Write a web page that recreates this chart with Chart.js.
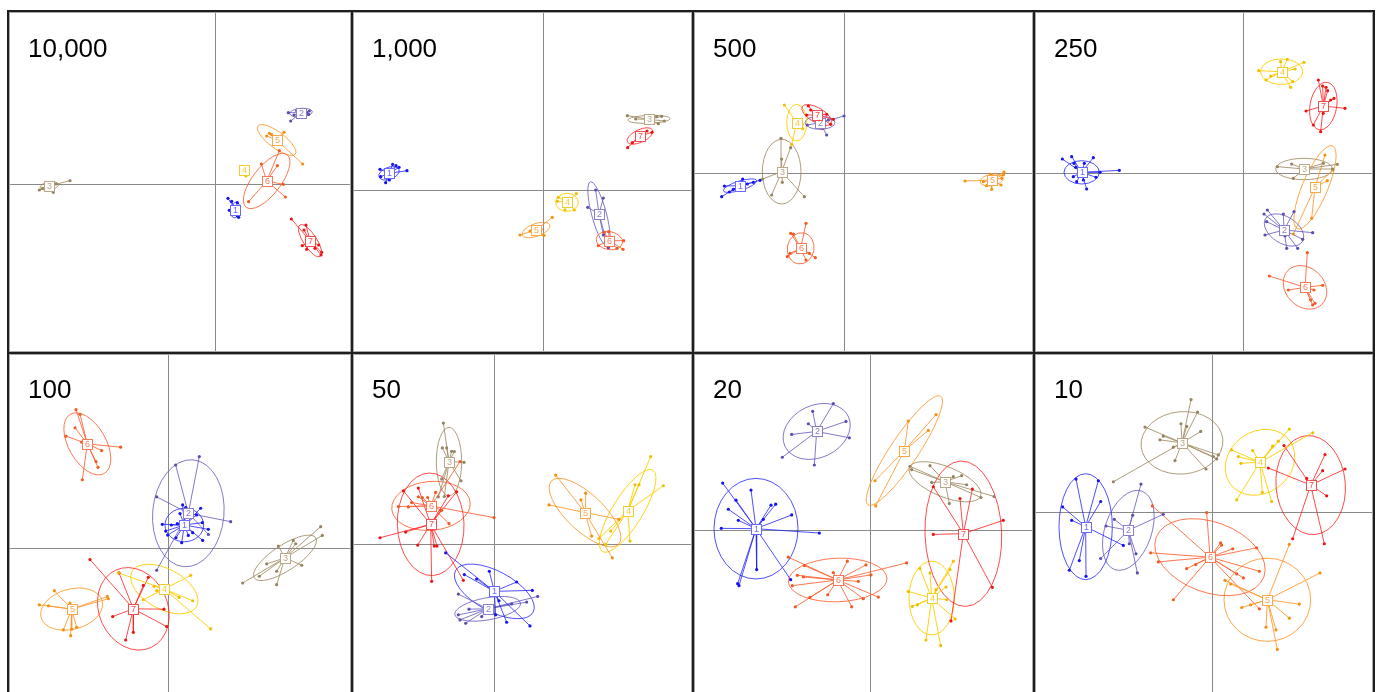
<!DOCTYPE html>
<html>
<head>
<meta charset="utf-8">
<title>Group scores by sample size</title>
<script src="https://cdn.jsdelivr.net/npm/chart.js@4/dist/chart.umd.min.js"></script>
<style>
  html, body { margin: 0; padding: 0; background: #fff; width: 1380px; height: 692px; overflow: hidden; }
  .panel { position: absolute; box-sizing: border-box; border: 2px solid #1e1e1e; background: #fff; }
  .inner { position: absolute; left: 0; top: 0; right: 0; bottom: 0; border: 1px solid #a8a8a8; }
  .inner canvas { position: absolute; left: 0; top: 0; }
  .ttl { position: absolute; font: 26px "Liberation Sans", Arial, sans-serif; line-height: 26px; color: #000; white-space: nowrap; }
</style>
</head>
<body>
<script>
// Panel titles (sample size) and group labels
const panelTitles = ['10,000', '1,000', '500', '250', '100', '50', '20', '10'];
const groupLabels = ['1', '2', '3', '4', '5', '6', '7'];

// Axis limits of each panel (score units), in panel order
const xLimits = [[-615, 405], [-568, 443], [-447, 564], [-620, 388], [-475, 545], [-420, 591], [-525, 486], [-528, 480]];
const yLimits = [[-500, 514], [-482, 532], [-533, 481], [-533, 481], [-443, 577], [-455, 565], [-498, 522], [-552, 468]];

// Group classes: [group, centroid x, centroid y, ellipse semi-axis a, semi-axis b, angle in degrees]
const cls10000 = [[1, 61, -77, 24, 13, 80], [2, 258, 215, 34, 13, 5], [3, -497, -5, 28, 12, 10], [4, 88, 43, 6, 4, 60],
  [5, 185, 133, 70, 24, -37], [6, 155, 10, 100, 42, 52], [7, 285, -169, 56, 20, -57]];
const cls1000 = [[1, -463, 51, 32, 18, 20], [2, 167, -71, 100, 22, 105], [3, 317, 213, 63, 12, 2], [4, 71, -36, 34, 27, 0],
  [5, -22, -119, 44, 19, 20], [6, 198, -151, 40, 27, -10], [7, 290, 163, 42, 19, 25]];
const cls500 = [[1, -312, -37, 52, 14, 17], [2, -72, 152, 45, 20, 0], [3, -187, 5, 97, 58, 90], [4, -142, 152, 55, 30, 90],
  [5, 443, -20, 35, 17, 10], [6, -130, -225, 47, 40, 80], [7, -82, 175, 50, 22, -30]];
const cls250 = [[1, -483, 3, 53, 35, 0], [2, 124, -170, 65, 40, -32], [3, 184, 13, 85, 32, 0], [4, 117, 305, 63, 38, 0],
  [5, 217, -42, 135, 38, 67], [6, 187, -342, 72, 58, -45], [7, 242, 202, 72, 40, 80]];
const cls100 = [[1, 48, 70, 58, 50, 0], [2, 60, 105, 160, 107, 85], [3, 350, -28, 110, 38, 33], [4, -12, -121, 110, 60, -28],
  [5, -290, -181, 95, 60, 15], [6, -243, 312, 102, 56, -60], [7, -105, -180, 127, 103, -65]];
const cls50 = [[1, 1, -140, 132, 60, -28], [2, -19, -192, 100, 33, 10], [3, -135, 247, 102, 38, 90], [4, 401, 100, 143, 45, 58],
  [5, 273, 95, 138, 55, -43], [6, -189, 115, 118, 73, 5], [7, -190, 60, 153, 100, 92]];
const cls20 = [[1, -342, 4, 150, 126, 90], [2, -160, 294, 105, 78, 25], [3, 225, 144, 115, 45, -22], [4, 185, -203, 110, 68, 90],
  [5, 103, 237, 195, 42, 56], [6, -97, -149, 148, 65, 2], [7, 280, -11, 217, 115, 92]];
const cls10 = [[1, -379, -44, 158, 80, 90], [2, -251, -55, 124, 70, 71], [3, -90, 206, 123, 93, 5], [4, 144, 148, 110, 92, 35],
  [5, 166, -262, 130, 124, 0], [6, -6, -135, 172, 105, -20], [7, 296, 80, 148, 104, 95]];

// Individual scores: [group, x, y]
const pts10000 = [
  [1, 39, -42], [1, 50, -51], [1, 43, -78], [1, 67, -55], [1, 71, -99], [1, 67, -95], [1, 58, -90],
  [2, 220, 215], [2, 227, 190], [2, 237, 208], [2, 245, 221], [2, 276, 215], [2, 283, 220], [2, 281, 210],
  [3, -527, -17], [3, -517, -12], [3, -485, -24], [3, -477, 1], [3, -435, 11], [3, -488, 6],
  [4, 90, 41], [4, 93, 25],
  [5, 163, 153], [5, 155, 145], [5, 170, 149], [5, 207, 156], [5, 263, 61],
  [6, 193, 101], [6, 139, 61], [6, 187, 56], [6, 205, 0], [6, 211, -38], [6, 101, -52],
  [7, 229, -104], [7, 273, -122], [7, 267, -137], [7, 262, -184], [7, 275, -195], [7, 311, -182], [7, 318, -212], [7, 320, -204], [7, 300, -192]
];
const pts1000 = [
  [1, -490, 63], [1, -488, 41], [1, -473, 23], [1, -462, 31], [1, -452, 78], [1, -442, 74], [1, -433, 69], [1, -409, 59],
  [2, 157, 1], [2, 180, -23], [2, 133, -51], [2, 195, -172], [2, 180, -134],
  [3, 252, 224], [3, 277, 214], [3, 340, 221], [3, 355, 222], [3, 363, 208], [3, 345, 200],
  [4, 45, -21], [4, 99, -10], [4, 65, -59], [4, 93, -59], [4, 42, -33],
  [5, -70, -134], [5, -40, -122], [5, 2, -135], [5, 27, -81], [5, -7, -117],
  [6, 165, -166], [6, 183, -126], [6, 196, -124], [6, 241, -151], [6, 239, -177], [6, 221, -174], [6, 195, -171],
  [7, 253, 128], [7, 267, 143], [7, 311, 178], [7, 326, 174], [7, 302, 159]
];
const pts500 = [
  [1, -367, -70], [1, -359, -38], [1, -344, -56], [1, -332, -48], [1, -304, -17], [1, -290, -32], [1, -272, -27], [1, -252, -21],
  [2, 0, 172], [2, -52, 115], [2, -110, 145], [2, -47, 160],
  [3, -189, 105], [3, -160, 77], [3, -187, 43], [3, -217, -65], [3, -185, -27], [3, -119, -70], [3, -244, -17],
  [4, -179, 205], [4, -157, 87], [4, -125, 147], [4, -124, 134],
  [5, 363, -23], [5, 418, -25], [5, 428, -37], [5, 443, -48], [5, 471, -35], [5, 478, -4], [5, 480, 4], [5, 473, -15], [5, 440, -3],
  [6, -114, -150], [6, -160, -180], [6, -152, -182], [6, -170, -250], [6, -162, -240], [6, -114, -260], [6, -86, -253], [6, -104, -240],
  [7, -107, 202], [7, -100, 190], [7, -112, 175], [7, -90, 160], [7, -52, 177], [7, -40, 147], [7, -65, 135], [7, -32, 162]
];
const pts250 = [
  [1, -541, 43], [1, -513, 50], [1, -506, 30], [1, -501, 18], [1, -448, 47], [1, -475, 30], [1, -508, -10], [1, -498, -25],
  [1, -478, -20], [1, -468, -47], [1, -440, -12], [1, -428, 3], [1, -370, 9],
  [2, 74, -110], [2, 64, -122], [2, 72, -145], [2, 67, -185], [2, 122, -122], [2, 154, -115], [2, 210, -178], [2, 180, -198],
  [2, 132, -225], [2, 165, -225], [2, 127, -188],
  [3, 104, 20], [3, 147, 28], [3, 242, 30], [3, 284, 27], [3, 270, 13], [3, 152, -15],
  [4, 48, 308], [4, 70, 280], [4, 84, 292], [4, 114, 335], [4, 134, 342], [4, 184, 333], [4, 157, 313], [4, 150, 275], [4, 144, 258],
  [5, 247, 55], [5, 270, 10], [5, 254, -22], [5, 207, -135], [5, 152, -182],
  [6, 194, -238], [6, 80, -308], [6, 137, -350], [6, 240, -336], [6, 214, -350], [6, 204, -380], [6, 210, -395], [6, 217, -390],
  [7, 227, 280], [7, 240, 262], [7, 250, 258], [7, 255, 248], [7, 274, 225], [7, 264, 220], [7, 307, 195], [7, 190, 187],
  [7, 212, 145], [7, 234, 125], [7, 242, 180]
];
const pts100 = [
  [1, -18, 72], [1, -8, 52], [1, -2, 40], [1, 9, 70], [1, 27, 74], [1, 35, 104], [1, 43, 130], [1, 52, 122], [1, 97, 120],
  [1, 85, 100], [1, 102, 77], [1, 120, 57], [1, 103, 24], [1, 73, 47], [1, 40, 17], [1, 23, 32], [1, 60, 39],
  [2, 93, 274], [2, 22, 249], [2, -35, 154], [2, 187, 80], [2, 120, 42], [2, -35, -65],
  [3, 223, -103], [3, 273, -83], [3, 295, -46], [3, 325, -68], [3, 325, -108], [3, 330, 7], [3, 375, 24], [3, 382, 14],
  [3, 400, -50], [3, 457, 65], [3, 462, 39],
  [4, -150, -73], [4, -35, -126], [4, -75, -153], [4, 67, -80], [4, 32, -146], [4, 73, -156], [4, 127, -240], [4, -43, -113],
  [5, -387, -168], [5, -360, -171], [5, -342, -126], [5, -295, -163], [5, -315, -243], [5, -293, -260], [5, -290, -241],
  [5, -275, -235], [5, -183, -143], [5, -180, -150],
  [6, -277, 414], [6, -265, 400], [6, -280, 360], [6, -307, 335], [6, -260, 317], [6, -200, 292], [6, -143, 302],
  [6, -217, 259], [6, -211, 242], [6, -258, 205],
  [7, -235, -33], [7, -148, -73], [7, -60, -86], [7, -75, -110], [7, -13, -181], [7, -5, -233], [7, -105, -250],
  [7, -128, -273], [7, -167, -203]
];
const pts50 = [
  [1, -145, -25], [1, -89, -90], [1, -52, -103], [1, -14, -80], [1, 68, -112], [1, 115, -137], [1, 108, -243], [1, 38, -232],
  [1, 5, -210], [1, 15, -168],
  [2, -107, -210], [2, -102, -225], [2, -85, -235], [2, -75, -193], [2, -107, -148], [2, -37, -215], [2, 53, -177],
  [2, 98, -172], [2, 131, -155],
  [3, -152, 362], [3, -155, 288], [3, -142, 288], [3, -127, 278], [3, -119, 277], [3, -90, 245], [3, -99, 190], [3, -157, 195],
  [3, -167, 142], [3, -149, 143],
  [4, 470, 262], [4, 423, 178], [4, 435, 178], [4, 508, 175], [4, 408, 10], [4, 350, 40], [4, 335, 0], [4, 315, 18],
  [5, 185, 207], [5, 165, 118], [5, 261, 133], [5, 275, 153], [5, 293, 25], [5, 375, 75], [5, 355, -40],
  [6, -227, 142], [6, -215, 140], [6, -247, 125], [6, -257, 112], [6, -287, 113], [6, -199, 140], [6, -175, 155],
  [6, -102, 247], [6, -157, 102], [6, -135, 62], [6, 0, 80],
  [7, -342, 20], [7, -265, 37], [7, -272, 160], [7, -227, 168], [7, -137, 145], [7, -112, 157], [7, -159, 102],
  [7, -229, -2], [7, -187, -110], [7, -179, -5], [7, -171, -5], [7, -92, -107]
];
const pts20 = [
  [1, -442, 140], [1, -402, 89], [1, -425, 62], [1, -395, 29], [1, -357, 119], [1, -297, 74], [1, -283, 77], [1, -320, 32],
  [1, -235, 45], [1, -446, 5], [1, -152, -9], [1, -340, -118], [1, -397, -160], [1, -393, -166], [1, -238, -148],
  [2, -172, 354], [2, -110, 377], [2, -185, 317], [2, -235, 285], [2, -263, 217], [2, -167, 194], [2, -72, 324], [2, -62, 275],
  [3, 120, 190], [3, 125, 180], [3, 180, 192], [3, 185, 142], [3, 238, 79], [3, 250, 159], [3, 275, 162], [3, 290, 135],
  [3, 333, 97], [3, 372, 100],
  [4, 150, -115], [4, 180, -128], [4, 250, -93], [4, 240, -118], [4, 198, -178], [4, 228, -170], [4, 115, -183],
  [4, 127, -228], [4, 142, -223], [4, 230, -208], [4, 255, -265], [4, 168, -328], [4, 212, -345],
  [5, 115, 325], [5, 198, 344], [5, 175, 297], [5, 15, 147], [5, 17, 72],
  [6, -245, -81], [6, -197, -106], [6, -218, -135], [6, -200, -140], [6, -233, -166], [6, -224, -229], [6, -180, -201],
  [6, -127, -193], [6, -110, -127], [6, -68, -93], [6, -35, -153], [6, -12, -104], [6, 3, -134], [6, 110, -98],
  [6, 25, -200], [6, -20, -205], [6, -55, -229],
  [7, 190, 129], [7, 270, 94], [7, 307, 122], [7, 400, 29], [7, 190, -13], [7, 367, -171], [7, 243, -271]
];
const pts10 = [
  [1, -448, 15], [1, -421, -25], [1, -408, 98], [1, -341, 93], [1, -334, 31], [1, -266, -100], [1, -398, -145],
  [1, -428, -174], [1, -378, -192],
  [2, -213, 83], [2, -238, -10], [2, -146, -7], [2, -293, -22], [2, -318, -42], [2, -334, -139], [2, -248, -95],
  [2, -228, -125], [2, -224, -182],
  [3, -63, 335], [3, -43, 298], [3, -93, 263], [3, -76, 255], [3, -34, 240], [3, -201, 253], [3, -156, 215], [3, -146, 226],
  [3, -116, 193], [3, -111, 153], [3, -296, 90], [3, -18, 128], [3, 4, 165], [3, 19, 170], [3, 14, 158],
  [4, 59, 185], [4, 79, 165], [4, 87, 145], [4, 122, 183], [4, 182, 196], [4, 199, 211], [4, 232, 247], [4, 302, 236],
  [4, 74, 36], [4, 151, 58], [4, 179, 31],
  [5, 232, -97], [5, 324, -182], [5, 39, -204], [5, 56, -215], [5, 89, -285], [5, 116, -277], [5, 262, -275], [5, 232, -317],
  [5, 162, -344], [5, 192, -352], [5, 196, -410],
  [6, -179, 18], [6, -16, -2], [6, -184, -122], [6, -161, -149], [6, -76, -169], [6, -49, -157], [6, -116, -262], [6, 26, -92],
  [6, 29, -99], [6, 62, -110], [6, 134, -107], [6, 142, -177], [6, 94, -197], [6, 74, -185], [6, 142, -289],
  [7, 216, 198], [7, 169, 131], [7, 284, 100], [7, 332, 123], [7, 339, 171], [7, 399, 128], [7, 344, 48], [7, 242, -80], [7, 337, -95]
];

const panelPoints = [pts10000, pts1000, pts500, pts250, pts100, pts50, pts20, pts10];
const panelClasses = [cls10000, cls1000, cls500, cls250, cls100, cls50, cls20, cls10];

// Colours per group (index 0 unused)
const lineColor = [null, 'rgba(30,30,255,0.78)', 'rgba(98,88,190,0.8)', 'rgba(160,140,100,0.85)', 'rgba(255,205,0,0.9)',
  'rgba(255,150,40,0.85)', 'rgba(255,95,50,0.85)', 'rgba(255,30,30,0.8)'];
const pointColor = [null, '#1414ee', '#5a4fae', '#968460', '#f0c000', '#f59010', '#f25a22', '#ee1414'];
const labelColor = [null, '#6a6aff', '#8a82c8', '#b8a888', '#f5cc30', '#f7a84a', '#f77a55', '#f25050'];

// Frame geometry: column and row boundaries of the panel grid
const colEdges = [7, 351, 692, 1033, 1373];
const rowEdges = [10, 352, 698];

function classPlugin(cls) {
  return {
    id: 'classes',
    beforeDatasetsDraw(chart) {
      const { ctx, chartArea, scales: { x, y } } = chart;
      ctx.save();
      // axes through the origin
      const x0 = Math.round(x.getPixelForValue(0)) + 0.5;
      const y0 = Math.round(y.getPixelForValue(0)) + 0.5;
      ctx.strokeStyle = '#8a8a8a';
      ctx.lineWidth = 1;
      ctx.beginPath();
      ctx.moveTo(x0, chartArea.top); ctx.lineTo(x0, chartArea.bottom);
      ctx.moveTo(chartArea.left, y0); ctx.lineTo(chartArea.right, y0);
      ctx.stroke();
      // dispersion ellipses
      const sx = x.getPixelForValue(1) - x.getPixelForValue(0);
      const sy = y.getPixelForValue(0) - y.getPixelForValue(1);
      cls.forEach(([g, cx, cy, a, b, ang]) => {
        ctx.save();
        ctx.translate(x.getPixelForValue(cx), y.getPixelForValue(cy));
        ctx.scale(sx, -sy);
        ctx.rotate(ang * Math.PI / 180);
        ctx.beginPath();
        ctx.ellipse(0, 0, a, b, 0, 0, Math.PI * 2);
        ctx.restore();
        ctx.strokeStyle = lineColor[g];
        ctx.lineWidth = 1;
        ctx.stroke();
      });
      ctx.restore();
    },
    afterDatasetsDraw(chart) {
      const { ctx, scales: { x, y } } = chart;
      ctx.save();
      ctx.font = '9px "Liberation Sans", Arial, sans-serif';
      ctx.textAlign = 'center';
      ctx.textBaseline = 'middle';
      ctx.lineWidth = 1;
      cls.forEach(([g, cx, cy]) => {
        const px = Math.round(x.getPixelForValue(cx));
        const py = Math.round(y.getPixelForValue(cy));
        ctx.fillStyle = '#ffffff';
        ctx.fillRect(px - 5, py - 5, 11, 11);
        ctx.strokeStyle = labelColor[g];
        ctx.strokeRect(px - 4.5, py - 4.5, 10, 10);
        ctx.fillStyle = labelColor[g];
        ctx.fillText(groupLabels[g - 1], px + 0.5, py + 1);
      });
      ctx.restore();
    }
  };
}

panelTitles.forEach((title, i) => {
  const col = i % 4, row = Math.floor(i / 4);
  const left = colEdges[col], top = rowEdges[row];
  const w = colEdges[col + 1] - left + 2;
  const h = rowEdges[row + 1] - top + 2;

  const panel = document.createElement('div');
  panel.className = 'panel';
  Object.assign(panel.style, { left: left + 'px', top: top + 'px', width: w + 'px', height: h + 'px' });
  const inner = document.createElement('div');
  inner.className = 'inner';
  const canvas = document.createElement('canvas');
  canvas.width = w - 6;
  canvas.height = h - 6;
  canvas.style.width = (w - 6) + 'px';
  canvas.style.height = (h - 6) + 'px';
  inner.appendChild(canvas);
  const ttl = document.createElement('div');
  ttl.className = 'ttl';
  ttl.textContent = title;
  ttl.style.left = '18px';
  ttl.style.top = (row === 0 ? 22 : 21) + 'px';
  inner.appendChild(ttl);
  panel.appendChild(inner);
  document.body.appendChild(panel);

  const pts = panelPoints[i];
  const cls = panelClasses[i];
  const datasets = [];
  cls.forEach(([g, cx, cy]) => {
    const mine = pts.filter(p => p[0] === g);
    datasets.push({
      label: 'group ' + g,
      data: mine.map(p => ({ x: p[1], y: p[2] })),
      showLine: false,
      pointRadius: 1.6,
      pointBackgroundColor: pointColor[g],
      pointBorderWidth: 0,
      order: 0
    });
    const star = [];
    mine.forEach(p => {
      star.push({ x: cx, y: cy }, { x: p[1], y: p[2] }, { x: NaN, y: NaN });
    });
    datasets.push({
      label: 'links ' + g,
      data: star,
      showLine: true,
      spanGaps: false,
      borderColor: lineColor[g],
      borderWidth: 1,
      pointRadius: 0,
      order: 1
    });
  });

  new Chart(canvas, {
    type: 'scatter',
    data: { datasets },
    options: {
      responsive: false,
      animation: false,
      devicePixelRatio: 1,
      events: [],
      layout: { padding: 0, autoPadding: false },
      plugins: { legend: { display: false }, tooltip: { enabled: false } },
      scales: {
        x: { type: 'linear', min: xLimits[i][0], max: xLimits[i][1], display: false },
        y: { type: 'linear', min: yLimits[i][0], max: yLimits[i][1], display: false }
      }
    },
    plugins: [classPlugin(cls)]
  });
});
</script>
</body>
</html>
